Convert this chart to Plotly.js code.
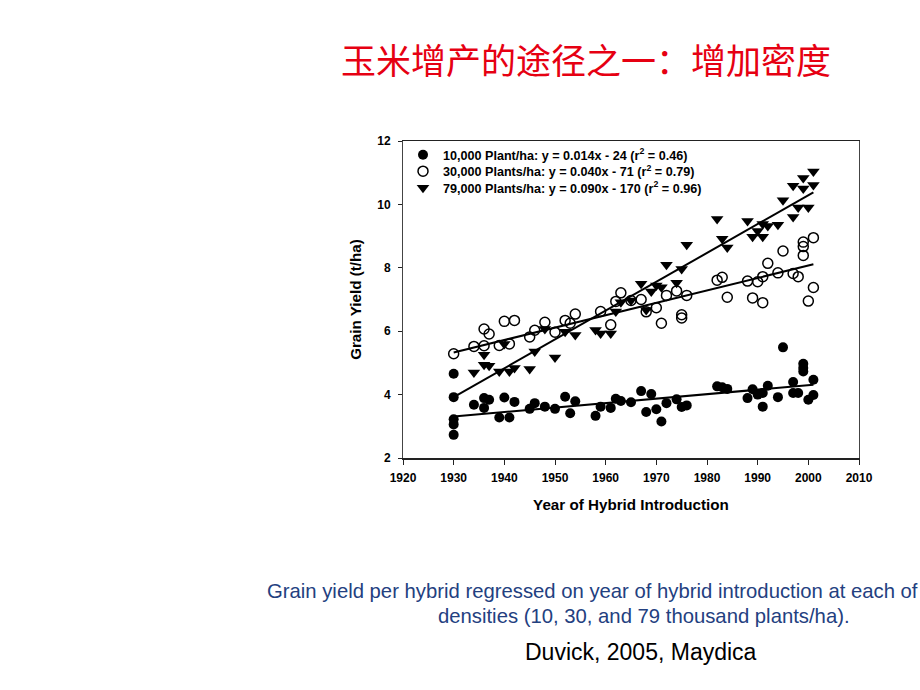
<!DOCTYPE html>
<html>
<head>
<meta charset="utf-8">
<script src="https://cdn.plot.ly/plotly-3.0.1.min.js"></script>
<style>html,body{margin:0;padding:0;background:#fff;}#chart{width:920px;height:690px;}</style>
</head>
<body>
<div id="chart"></div>
<script>
// ---- data ----
const year10 = [1930,1930,1930,1930,1930,1934,1936,1937,1936,1939,1940,1941,1942,1945,1946,1948,1950,1952,1953,1954,1958,1959,1961,1962,1963,1965,1967,1968,1969,1970,1971,1972,1974,1975,1976,1982,1983,1984,1988,1989,1990,1991,1991,1992,1994,1995,1997,1997,1998,1999,1999,1999,2000,2001,2001];
const yield10 = [4.66,3.92,3.22,3.06,2.73,3.68,3.89,3.84,3.58,3.28,3.91,3.28,3.77,3.55,3.73,3.62,3.55,3.93,3.41,3.79,3.33,3.62,3.58,3.87,3.80,3.76,4.11,3.45,4.02,3.54,3.15,3.73,3.85,3.61,3.66,4.26,4.23,4.18,3.89,4.17,4.00,4.05,3.62,4.28,3.92,5.49,4.40,4.05,4.05,4.97,4.84,4.73,3.84,4.47,3.99];

const year30 = [1930,1934,1936,1937,1936,1939,1940,1942,1941,1945,1946,1948,1950,1952,1953,1954,1959,1961,1962,1963,1965,1967,1968,1970,1971,1972,1974,1975,1975,1976,1982,1983,1984,1988,1989,1990,1991,1991,1992,1994,1995,1997,1998,1999,1999,1999,2000,2001,2001];
const yield30 = [5.29,5.52,6.07,5.91,5.54,5.55,6.31,6.34,5.60,5.82,6.03,6.28,5.97,6.34,6.25,6.54,6.62,6.20,6.94,7.21,6.97,7.00,6.61,6.74,6.25,7.13,7.27,6.52,6.42,7.13,7.61,7.70,7.07,7.58,7.05,7.56,7.72,6.90,8.14,7.84,8.53,7.82,7.72,8.81,8.67,8.39,6.95,8.95,7.38];

const year79 = [1934,1936,1936,1937,1939,1940,1941,1942,1945,1946,1948,1950,1952,1954,1958,1959,1961,1962,1963,1965,1967,1968,1969,1970,1971,1972,1974,1975,1976,1982,1983,1984,1988,1989,1990,1991,1991,1992,1994,1995,1997,1997,1998,1999,1999,2000,2001,2001];
const yield79 = [4.70,5.26,4.94,4.91,4.73,5.60,4.73,4.84,4.81,5.36,6.07,5.17,5.98,5.88,6.04,5.93,5.93,6.62,6.91,6.97,7.50,6.67,7.25,7.44,7.39,8.10,7.53,7.96,8.73,9.54,8.92,8.64,9.48,8.98,9.16,8.98,9.38,9.32,9.36,10.13,10.59,9.60,9.90,10.83,10.50,9.90,11.04,10.61];

// regression line end points
const fitYears = [1930, 2001];
const fit10 = [3.31, 4.31];
const fit30 = [5.33, 8.11];
const fit79 = [3.92, 10.38];

const names = [
  "10,000 Plant/ha: y = 0.014x - 24 (r<sup>2</sup> = 0.46)",
  "30,000 Plants/ha: y = 0.040x - 71 (r<sup>2</sup> = 0.79)",
  "79,000 Plants/ha: y = 0.090x - 170 (r<sup>2</sup> = 0.96)"
];
const xTicks = [1920,1930,1940,1950,1960,1970,1980,1990,2000,2010];
const yTicks = [2,4,6,8,10,12];

const FONT = "Liberation Sans, Arial, Helvetica, sans-serif";

const traces = [
  {x: year10, y: yield10, name: names[0], legend: 'legend', type: 'scatter', mode: 'markers',
   marker: {symbol: 'circle', size: 10, color: '#000'}},
  {x: year30, y: yield30, name: names[1], legend: 'legend2', type: 'scatter', mode: 'markers',
   marker: {symbol: 'circle-open', size: 10, color: '#000', line: {width: 1.5, color: '#000'}}},
  {x: year79, y: yield79, name: names[2], legend: 'legend3', type: 'scatter', mode: 'markers',
   marker: {symbol: 'triangle-down', size: 11, color: '#000'}},
  {x: fitYears, y: fit10, type: 'scatter', mode: 'lines', showlegend: false, hoverinfo: 'skip',
   line: {color: '#000', width: 2}},
  {x: fitYears, y: fit30, type: 'scatter', mode: 'lines', showlegend: false, hoverinfo: 'skip',
   line: {color: '#000', width: 2}},
  {x: fitYears, y: fit79, type: 'scatter', mode: 'lines', showlegend: false, hoverinfo: 'skip',
   line: {color: '#000', width: 2}}
];

const L = 403, R = 859, T = 141, B = 458;
const pw = R - L, ph = B - T;
const px2x = p => (p - L) / pw;
const py2y = p => (B - p) / ph;

const legendFont = {family: FONT, size: 12.6, color: '#000', weight: 700};
function mkLegend(py) {
  return {x: px2x(403), y: py2y(py), xanchor: 'left', yanchor: 'middle',
          bgcolor: 'rgba(0,0,0,0)', borderwidth: 0, font: legendFont};
}

const layout = {
  width: 920, height: 690,
  paper_bgcolor: '#fff', plot_bgcolor: '#fff',
  margin: {l: L, r: 920 - R, t: T, b: 690 - B},
  font: {family: FONT, color: '#000'},
  title: {
    text: '玉米增产的途径之一：增加密度',
    font: {family: 'Noto Sans CJK SC, sans-serif', size: 35, color: '#e60012'},
    x: 586 / 920, xanchor: 'center', xref: 'container',
    y: 1 - 62 / 690, yanchor: 'middle', yref: 'container'
  },
  showlegend: true,
  legend: mkLegend(155),
  legend2: mkLegend(171.5),
  legend3: mkLegend(188),
  xaxis: {
    range: [1920, 2010], tickvals: xTicks, ticktext: xTicks.map(String),
    showgrid: false, zeroline: false,
    showline: true, linecolor: '#222', linewidth: 1.5, mirror: true,
    ticks: 'outside', ticklen: 5, tickwidth: 1, tickcolor: '#222', ticklabelstandoff: 3,
    tickfont: {family: FONT, size: 12, color: '#000', weight: 700},
    title: {text: 'Year of Hybrid Introduction', standoff: 15,
            font: {family: FONT, size: 15.2, color: '#000', weight: 700}}
  },
  yaxis: {
    range: [2, 12], tickvals: yTicks, ticktext: yTicks.map(String),
    showgrid: false, zeroline: false,
    showline: true, linecolor: '#444', linewidth: 1, mirror: true,
    ticks: 'outside', ticklen: 4, tickwidth: 1, tickcolor: '#222', ticklabelstandoff: 5,
    tickfont: {family: FONT, size: 12, color: '#000', weight: 700},
    title: {text: 'Grain Yield (t/ha)', standoff: 11,
            font: {family: FONT, size: 15.2, color: '#000', weight: 700}}
  },
  annotations: [
    {text: 'Grain yield per hybrid regressed on year of hybrid introduction at each of',
     xref: 'paper', yref: 'paper', x: px2x(265), y: py2y(591), xanchor: 'left', yanchor: 'middle',
     showarrow: false, font: {family: FONT, size: 20.3, color: '#23407f'}},
    {text: 'densities (10, 30, and 79 thousand plants/ha).',
     xref: 'paper', yref: 'paper', x: px2x(644), y: py2y(616), xanchor: 'center', yanchor: 'middle',
     showarrow: false, font: {family: FONT, size: 20.3, color: '#23407f'}},
    {text: 'Duvick, 2005, Maydica',
     xref: 'paper', yref: 'paper', x: px2x(641), y: py2y(652), xanchor: 'center', yanchor: 'middle',
     showarrow: false, font: {family: FONT, size: 23, color: '#000'}}
  ]
};

Plotly.newPlot('chart', traces, layout, {displayModeBar: false, staticPlot: true});
</script>
</body>
</html>
